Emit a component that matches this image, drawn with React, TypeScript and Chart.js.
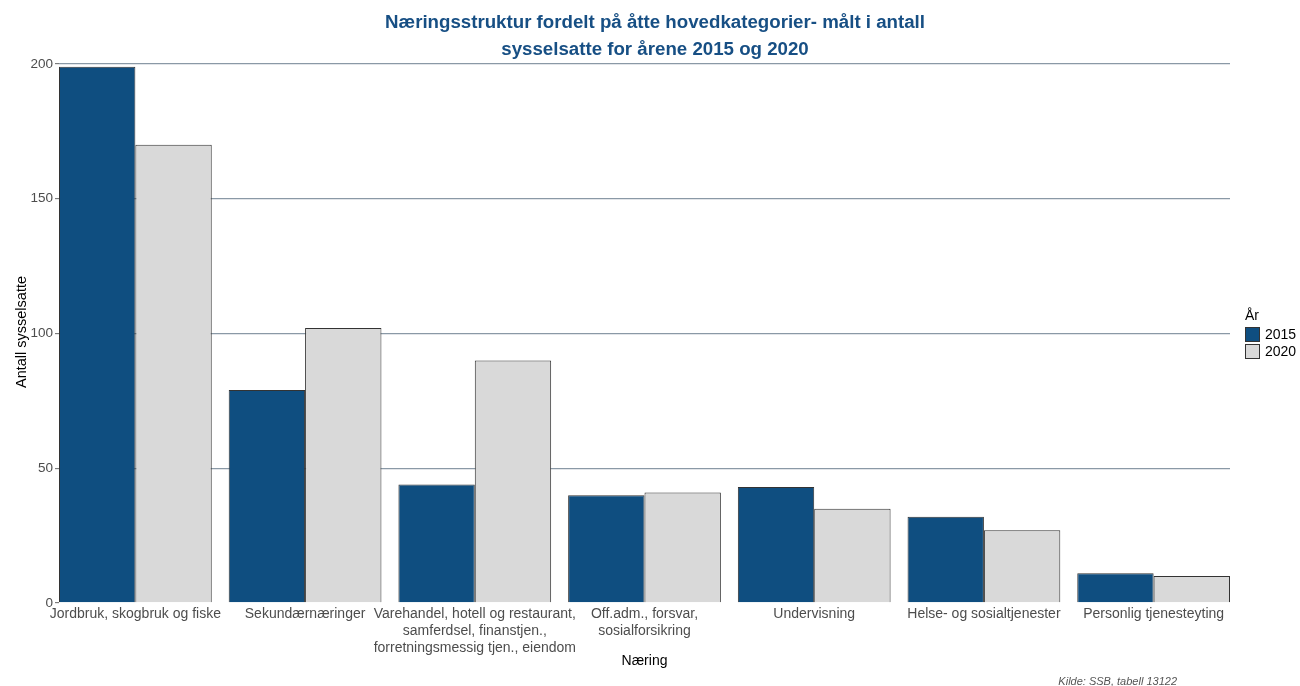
import React, { useEffect, useRef } from "react";
import { Chart, registerables } from "chart.js";

Chart.register(...registerables);

const categories: (string | string[])[] = [
  "Jordbruk, skogbruk og fiske",
  "Sekundærnæringer",
  ["Varehandel, hotell og restaurant,", "samferdsel, finanstjen.,", "forretningsmessig tjen., eiendom"],
  ["Off.adm., forsvar,", "sosialforsikring"],
  "Undervisning",
  "Helse- og sosialtjenester",
  "Personlig tjenesteyting",
];
const values2015 = [199, 79, 44, 40, 43, 32, 11];
const values2020 = [170, 102, 90, 41, 35, 27, 10];
const seriesNames = ["2015", "2020"];
const yTicks = [0, 50, 100, 150, 200];

const titleLines = [
  "Næringsstruktur fordelt på åtte hovedkategorier- målt i antall",
  "sysselsatte for årene 2015 og 2020",
];
const xTitle = "Næring";
const yTitle = "Antall sysselsatte";
const legendTitle = "År";
const caption = "Kilde: SSB, tabell 13122";

const COLORS = ["#0f4e80", "#d9d9d9"];
const FONT = "'Liberation Sans', Arial, sans-serif";

const decorPlugin = {
  id: "decor",
  afterDraw(chart: any) {
    const ctx = chart.ctx;
    const area = chart.chartArea;
    ctx.save();
    // Title
    ctx.fillStyle = "#174f84";
    ctx.font = `bold 18.7px ${FONT}`;
    ctx.textAlign = "center";
    ctx.textBaseline = "middle";
    ctx.fillText(titleLines[0], 655, 23);
    ctx.fillText(titleLines[1], 655, 50);
    // Axis titles
    ctx.fillStyle = "#000";
    ctx.font = `14px ${FONT}`;
    ctx.fillText(xTitle, (area.left + area.right) / 2, 661);
    ctx.save();
    ctx.translate(22, 332);
    ctx.rotate(-Math.PI / 2);
    ctx.font = `14.5px ${FONT}`;
    ctx.fillText(yTitle, 0, 0);
    ctx.restore();
    // Legend
    ctx.textAlign = "left";
    ctx.font = `14px ${FONT}`;
    ctx.fillStyle = "#000";
    ctx.fillText(legendTitle, 1245, 316);
    chart.data.datasets.forEach((ds: any, i: number) => {
      const y = 327 + i * 17;
      ctx.fillStyle = ds.backgroundColor;
      ctx.fillRect(1245, y, 15, 15);
      ctx.strokeStyle = "#333";
      ctx.lineWidth = 1;
      ctx.strokeRect(1245.5, y + 0.5, 14, 14);
      ctx.fillStyle = "#000";
      ctx.fillText(ds.label, 1265, y + 8);
    });
    // Caption
    ctx.font = `italic 11px ${FONT}`;
    ctx.fillStyle = "#555";
    ctx.textAlign = "right";
    ctx.fillText(caption, 1177, 682);
    ctx.restore();
  },
};

export default function App() {
  const canvasRef = useRef<HTMLCanvasElement | null>(null);

  useEffect(() => {
    if (!canvasRef.current) return;
    const chart = new Chart(canvasRef.current, {
      type: "bar",
      data: {
        datasets: [values2015, values2020].map((vals, s) => ({
          label: seriesNames[s],
          data: vals.map((v, i) => ({ x: i + 1, y: v })),
          backgroundColor: COLORS[s],
          borderColor: "#333",
          borderWidth: 1,
          categoryPercentage: 0.9,
          barPercentage: 1,
        })),
      },
      options: {
        animation: false,
        responsive: false,
        maintainAspectRatio: false,
        layout: { padding: { top: 64, right: 70, bottom: 0, left: 0 } },
        plugins: {
          legend: { display: false },
          title: { display: false },
          tooltip: { enabled: false },
        },
        scales: {
          x: {
            type: "linear",
            offset: false,
            min: 0.55,
            max: 7.45,
            grid: { display: false, drawTicks: false },
            border: { display: false },
            ticks: {
              stepSize: 1,
              includeBounds: false,
              autoSkip: false,
              maxRotation: 0,
              minRotation: 0,
              padding: 3,
              color: "#4d4d4d",
              font: { family: FONT, size: 14, lineHeight: 1.2 },
              callback: (v: any) =>
                Number.isInteger(v) && v >= 1 && v <= categories.length
                  ? categories[v - 1]
                  : "",
            },
            afterFit: (scale: any) => {
              scale.height = 83;
            },
          },
          y: {
            min: yTicks[0],
            max: yTicks[yTicks.length - 1],
            border: { display: false },
            grid: {
              color: (c: any) => (c.tick && c.tick.value === 0 ? "rgba(0,0,0,0)" : "#8a99a6"),
              lineWidth: 1.3,
              tickLength: 4,
              tickColor: "#666",
              tickWidth: 1,
            },
            ticks: {
              stepSize: 50,
              padding: 2,
              color: "#4d4d4d",
              font: { family: FONT, size: 13.5 },
            },
            afterFit: (scale: any) => {
              scale.width = 59;
            },
          },
        },
      } as any,
      plugins: [decorPlugin],
    });
    return () => chart.destroy();
  }, []);

  return (
    <div style={{ position: "fixed", left: 0, top: 0, width: 1300, height: 686, background: "#fff" }}>
      <canvas ref={canvasRef} width={1300} height={686} style={{ width: 1300, height: 686 }} />
    </div>
  );
}
